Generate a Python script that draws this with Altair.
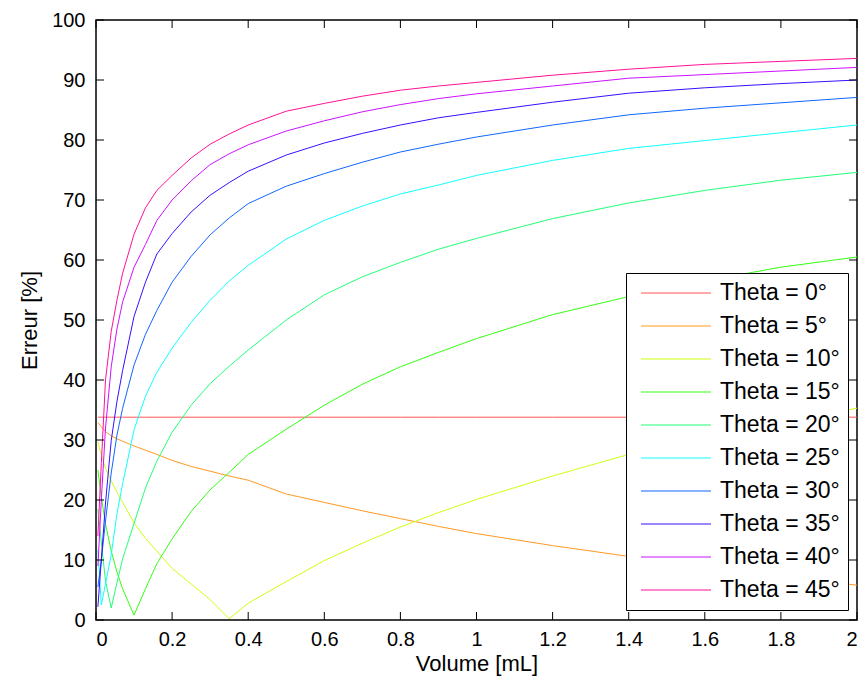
import altair as alt
import pandas as pd

# ---- data ----
volume = [0.005, 0.014, 0.025, 0.04, 0.055, 0.07, 0.1, 0.13, 0.16, 0.2, 0.25, 0.3, 0.35,
          0.4, 0.5, 0.6, 0.7, 0.8, 0.9, 1.0, 1.2, 1.4, 1.6, 1.8, 2.0]

theta0 = [33.8, 33.8, 33.8, 33.8, 33.8, 33.8, 33.8, 33.8, 33.8, 33.8, 33.8, 33.8, 33.8,
          33.8, 33.8, 33.8, 33.8, 33.8, 33.8, 33.8, 33.8, 33.8, 33.8, 33.8, 33.8]
theta5 = [32.9, 32.2, 31.4, 30.7, 30.2, 29.8, 29.0, 28.3, 27.6, 26.6, 25.6, 24.8, 24.0,
          23.3, 21.0, 19.6, 18.2, 16.9, 15.6, 14.4, 12.4, 10.6, 8.9, 7.3, 5.8]
theta10 = [29.7, 27.5, 25.3, 23.2, 21.3, 19.6, 16.2, 13.6, 11.5, 8.6, 6.0, 3.4, 0.2,
           2.8, 6.4, 9.9, 12.8, 15.5, 17.9, 20.1, 24.0, 27.6, 30.5, 33.0, 35.3]
theta15 = [25.0, 20.5, 16.0, 11.5, 8.0, 5.2, 0.8, 5.2, 9.4, 13.5, 18.1, 21.7, 24.6,
           27.6, 31.8, 35.8, 39.3, 42.2, 44.6, 46.9, 50.9, 53.9, 56.5, 58.8, 60.5]
theta20 = [18.5, 13.0, 6.5, 2.0, 6.2, 10.2, 16.1, 22.0, 26.5, 31.3, 35.8, 39.4, 42.3,
           45.0, 50.0, 54.2, 57.2, 59.6, 61.8, 63.6, 66.9, 69.5, 71.6, 73.3, 74.6]
theta25 = [11.7, 2.5, 6.0, 10.9, 17.7, 22.7, 31.7, 37.3, 41.3, 45.3, 49.6, 53.3, 56.5,
           59.1, 63.5, 66.6, 69.0, 71.0, 72.5, 74.1, 76.6, 78.6, 79.9, 81.2, 82.5]
theta30 = [5.5, 10.0, 16.5, 24.5, 30.8, 35.3, 42.5, 47.6, 51.6, 56.3, 60.6, 64.2, 67.0,
           69.4, 72.3, 74.4, 76.3, 78.0, 79.3, 80.5, 82.5, 84.2, 85.3, 86.2, 87.1]
theta35 = [2.2, 10.0, 19.5, 29.9, 36.4, 41.6, 50.6, 56.3, 61.0, 64.4, 68.0, 70.8, 72.9,
           74.8, 77.5, 79.5, 81.1, 82.5, 83.7, 84.6, 86.3, 87.8, 88.7, 89.4, 90.0]
theta40 = [9.0, 20.0, 32.0, 42.2, 48.5, 53.0, 58.8, 62.6, 66.6, 70.0, 73.2, 75.9, 77.7,
           79.2, 81.5, 83.2, 84.7, 85.9, 86.9, 87.7, 89.0, 90.3, 90.9, 91.5, 92.1]
theta45 = [14.0, 26.1, 40.0, 48.1, 53.3, 57.8, 64.3, 68.7, 71.6, 74.1, 77.0, 79.3, 81.0,
           82.5, 84.8, 86.1, 87.3, 88.3, 89.0, 89.6, 90.8, 91.8, 92.6, 93.1, 93.6]

labels = ["Theta = 0°", "Theta = 5°", "Theta = 10°", "Theta = 15°", "Theta = 20°",
          "Theta = 25°", "Theta = 30°", "Theta = 35°", "Theta = 40°", "Theta = 45°"]
series = [theta0, theta5, theta10, theta15, theta20, theta25, theta30, theta35, theta40, theta45]
colors = ["#FF5555", "#FF9922", "#CCFF11", "#33FF11", "#22FF77",
          "#11FFFF", "#1166FF", "#3311FF", "#CC11FF", "#FF1199"]

x_ticks = [0, 0.2, 0.4, 0.6, 0.8, 1, 1.2, 1.4, 1.6, 1.8, 2]
y_ticks = [0, 10, 20, 30, 40, 50, 60, 70, 80, 90, 100]

# ---- tables ----
rows = []
for lab, vals in zip(labels, series):
    for v, e in zip(volume, vals):
        rows.append({"volume": v, "erreur": e, "serie": lab})
df = pd.DataFrame(rows)
xt = pd.DataFrame({"volume": x_ticks})
yt = pd.DataFrame({"erreur": y_ticks})

W, H = 761, 600
FONT = "Liberation Sans"
TL = 8

xscale = alt.Scale(domain=[0, 2], nice=False, zero=False)
yscale = alt.Scale(domain=[0, 100], nice=False, zero=False)

lines = alt.Chart(df).mark_line(strokeWidth=1, clip=True).encode(
    x=alt.X("volume:Q", scale=xscale,
            axis=alt.Axis(values=x_ticks, format=".1~f", title="Volume [mL]",
                          labelPadding=9, titlePadding=4)),
    y=alt.Y("erreur:Q", scale=yscale,
            axis=alt.Axis(values=y_ticks, format="d", title="Erreur [%]",
                          labelPadding=11, titlePadding=10)),
    color=alt.Color("serie:N", sort=labels,
                    scale=alt.Scale(domain=labels, range=colors),
                    legend=alt.Legend(title=None, orient="none", direction="vertical",
                                      legendX=530, legendY=253,
                                      symbolType="stroke", symbolSize=4900,
                                      symbolStrokeWidth=1.2, clipHeight=24,
                                      rowPadding=9, padding=8, symbolOffset=6,
                                      labelOffset=8, strokeColor="black",
                                      fillColor="white", labelFont=FONT,
                                      labelFontSize=23, labelColor="black",
                                      cornerRadius=0)),
)

tick_bottom = alt.Chart(xt).mark_rule(color="black", strokeWidth=1).encode(
    x=alt.X("volume:Q", scale=xscale), y=alt.value(H), y2=alt.value(H - TL))
tick_top = alt.Chart(xt).mark_rule(color="black", strokeWidth=1).encode(
    x=alt.X("volume:Q", scale=xscale), y=alt.value(0), y2=alt.value(TL))
tick_left = alt.Chart(yt).mark_rule(color="black", strokeWidth=1).encode(
    y=alt.Y("erreur:Q", scale=yscale), x=alt.value(0), x2=alt.value(TL))
tick_right = alt.Chart(yt).mark_rule(color="black", strokeWidth=1).encode(
    y=alt.Y("erreur:Q", scale=yscale), x=alt.value(W - TL), x2=alt.value(W))

chart = alt.layer(lines, tick_bottom, tick_top, tick_left, tick_right).properties(
    width=W, height=H,
    autosize=alt.AutoSizeParams(type="none"),
    padding={"left": 88, "top": 12, "right": 2, "bottom": 56},
    background="white",
).configure_view(
    stroke="black", strokeWidth=1.5
).configure_axis(
    ticks=False, tickSize=0, domain=False, grid=False,
    labelFont=FONT, labelFontSize=20, labelColor="black",
    titleFont=FONT, titleFontSize=22, titleFontWeight="normal", titleColor="black",
)

chart.save("out.html", embed_options={"renderer": "svg", "actions": False})
